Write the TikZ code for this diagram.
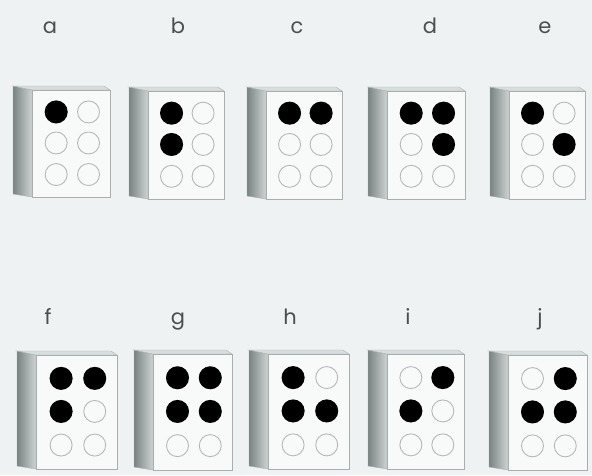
\documentclass[tikz,border=0pt]{standalone}
\usepackage{fontspec}
\setmainfont{Poppins}
\usetikzlibrary{positioning}
\definecolor{paper}{HTML}{EEF2F3}
\definecolor{face}{HTML}{F8FAFA}
\definecolor{edge}{HTML}{A9AFAF}
\definecolor{sidedark}{HTML}{7A8383}
\definecolor{sidelight}{HTML}{CED3D3}
\definecolor{topface}{HTML}{D8DDDD}
\definecolor{ink}{HTML}{4A4F52}
\definecolor{ring}{HTML}{B3B8B8}

\begin{document}
\begin{tikzpicture}[x=1pt,y=-1pt,
  front/.style={draw=edge,fill=face,line width=0.6pt,inner sep=0pt,anchor=north west},
  hole/.style={circle,draw=ring,line width=0.9pt,minimum size=22pt,inner sep=0pt},
  pin/.style={circle,fill=black,minimum size=23pt,inner sep=0pt},
  letter/.style={text=ink,font=\fontsize{21}{22}\selectfont,anchor=base}]
\fill[paper] (0,0) rectangle (592,475);
\useasboundingbox (0,0) rectangle (592,475);
% one braille cell per entry: front corner, size, label spot, raised dots
\foreach \ch/\fx/\fy/\w/\h/\lx/\ly/\pins in {
  a/32/90/78/107/50/33/{1},
  b/148/91/76/108/178/33/{1,2},
  c/266/91/76/108/297/33/{1,4},
  d/387/91/78/108/430/33/{1,4,5},
  e/509/91/76/108/545/33/{1,5},
  f/36/355/81/114/48/324/{1,2,4},
  g/153/354/79/116/178/324/{1,2,4,5},
  h/268/354/81/115/290/324/{1,2,5},
  i/387/354/77/115/408/324/{2,4},
  j/508/355/79/115/540/324/{2,4,5}}{
  % side and top of the block
  \shadedraw[left color=sidedark,right color=sidelight,draw=edge,line width=0.4pt]
    (\fx-19,\fy-4) -- (\fx,\fy) -- (\fx,\fy+\h) -- (\fx-19,\fy+\h-3) -- cycle;
  \filldraw[fill=topface,draw=edge,line width=0.4pt]
    (\fx-19,\fy-4) -- (\fx+\w-6,\fy-4) -- (\fx+\w,\fy) -- (\fx,\fy) -- cycle;
  \node[front,minimum width=\w*1pt,minimum height=\h*1pt] (box-\ch) at (\fx,\fy) {};
  \node[letter] (lab-\ch) at (\lx,\ly) {\ch};
  \foreach \k in {1,...,6}{
    \pgfmathsetmacro\cx{\k<4 ? 0.31*\w : 0.725*\w}
    \pgfmathtruncatemacro\r{mod(\k-1,3)}
    \pgfmathsetmacro\cy{{0.205,0.495,0.79}[\r]*\h}
    \node[hole] (\ch-\k) at (\fx+\cx,\fy+\cy) {};
  }
  \foreach \k in \pins{
    \node[pin] (pin-\ch\k) at (\ch-\k.center) {};
  }
}
\end{tikzpicture}
\end{document}
